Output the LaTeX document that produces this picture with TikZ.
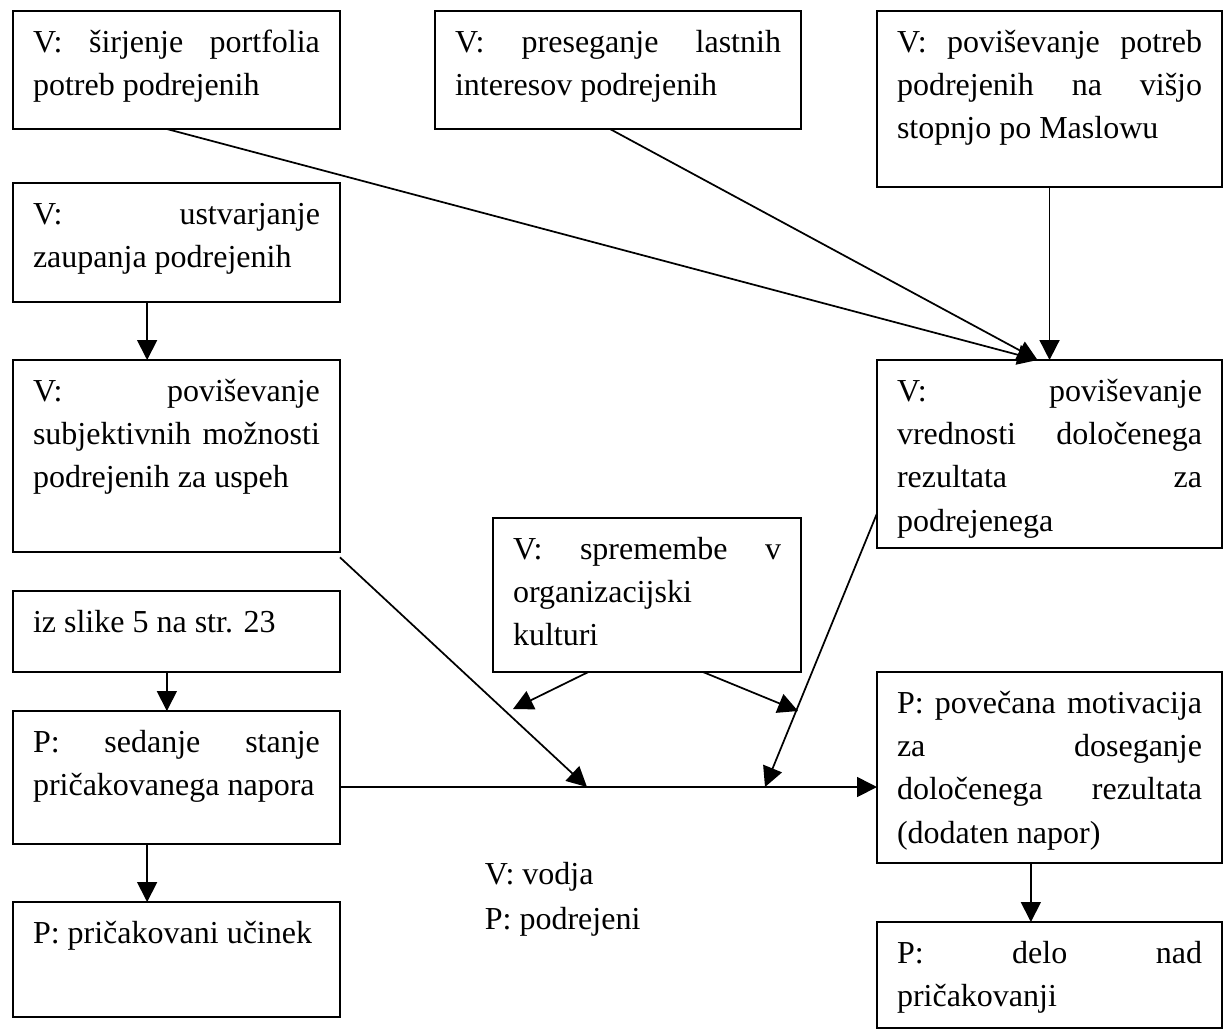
\documentclass[tikz,border=0pt]{standalone}
\usepackage{fontspec}
\setmainfont{Liberation Serif}
\usetikzlibrary{arrows.meta}
\hyphenpenalty=10000
\exhyphenpenalty=10000
\tolerance=10000
\hbadness=10000

\begin{document}
\begin{tikzpicture}[->,>={Triangle[length=7.5pt,width=7.5pt]},x=0.375pt,y=-0.375pt,
                    line width=0.65pt]
  \tikzstyle{blok}=[draw,anchor=north west,align=justify,outer sep=0pt,
                    inner xsep=7.5pt,inner ysep=6pt,text height=9.4pt,
                    font=\fontsize{12}{16.25}\selectfont]
  \useasboundingbox (0,0) rectangle (1223,1030);

  \node[blok,text width=107.6pt,text depth=22.85pt] (b1) at (13,11)
    {V: širjenje portfolia\linebreak potreb podrejenih};
  \node[blok,text width=122.25pt,text depth=22.85pt] (b2) at (435,11)
    {V: preseganje lastnih\linebreak interesov podrejenih};
  \node[blok,text width=114.4pt,text depth=44.6pt] (b3) at (877,11)
    {V: poviševanje potreb\linebreak podrejenih na višjo\linebreak stopnjo po Maslowu};
  \node[blok,text width=107.6pt,text depth=23.2pt] (b4) at (13,183)
    {V: ustvarjanje\linebreak zaupanja podrejenih};
  \node[blok,text width=107.6pt,text depth=50.6pt] (b5) at (13,360)
    {V: poviševanje\linebreak subjektivnih možnosti\linebreak podrejenih za uspeh};
  \node[blok,text width=114.4pt,text depth=49.1pt] (b6) at (877,360)
    {V: poviševanje\linebreak vrednosti določenega\linebreak rezultata za\linebreak podrejenega};
  \node[blok,text width=100.5pt,text depth=36.35pt] (b7) at (493,518)
    {V: spremembe v\linebreak organizacijski\linebreak kulturi};
  \node[blok,text width=107.6pt,text depth=9pt] (b8) at (13,591)
    {iz slike 5 na str. 23};
  \node[blok,text width=107.6pt,text depth=28.5pt] (b9) at (13,711)
    {P: sedanje stanje\linebreak pričakovanega napora};
  \node[blok,text width=114.4pt,text depth=50.2pt] (b10) at (877,672)
    {P: povečana motivacija\linebreak za doseganje\linebreak določenega rezultata\linebreak (dodaten napor)};
  \node[blok,text width=107.6pt,text depth=21.7pt] (b11) at (13,902)
    {P: pričakovani učinek};
  \node[blok,text width=114.4pt,text depth=18.35pt] (b12) at (877,922)
    {P: delo nad\linebreak pričakovanji};

  % legenda
  \node[anchor=north west,align=left,inner sep=0pt,
        font=\fontsize{12}{16.9}\selectfont] (leg) at (484,861)
    {V: vodja\\P: podrejeni};

  \coordinate (m1) at (587,787);
  \coordinate (m2) at (765,787);
  \coordinate (k1) at (513,709);
  \coordinate (k2) at (798,711);

  \draw ([xshift=-3.6pt]b1.south) -- ([xshift=-4.5pt]b6.north);
  \draw ([xshift=-3pt]b2.south) -- ([xshift=-4.5pt]b6.north);
  \draw (b3.south) -- (b6.north);
  \draw ([xshift=-11pt]b4.south) -- ([xshift=-11pt]b5.north);
  \draw ([yshift=-2pt]b5.south east) -- (m1);
  \draw ([yshift=13pt]b6.south west) -- (m2);
  \draw ([xshift=-22pt]b7.south) -- (k1);
  \draw ([xshift=21pt]b7.south) -- (k2);
  \draw ([xshift=-3.6pt]b8.south) -- ([xshift=-3.6pt]b9.north);
  \draw (b9.east |- m1) -- (b10.west |- m1);
  \draw ([xshift=-11pt]b9.south) -- ([xshift=-11pt]b11.north);
  \draw ([xshift=-7pt]b10.south) -- ([xshift=-7pt]b12.north);
\end{tikzpicture}
\end{document}
